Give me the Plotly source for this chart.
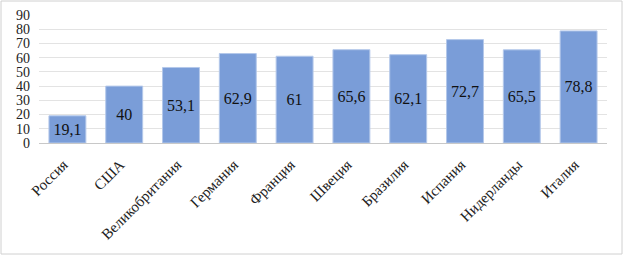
import plotly.graph_objects as go

countries = ["Россия", "США", "Великобритания", "Германия", "Франция", "Швеция",
             "Бразилия", "Испания", "Нидерланды", "Италия"]
values = [19.1, 40, 53.1, 62.9, 61, 65.6, 62.1, 72.7, 65.5, 78.8]
labels = [f"{v:g}".replace(".", ",") for v in values]
y_ticks = [0, 10, 20, 30, 40, 50, 60, 70, 80, 90]

W, H = 624, 256
ml, mr, mt, mb = 39, 17, 15, 113
pw, ph = W - ml - mr, H - mt - mb
SERIF = "Times New Roman, Liberation Serif, DejaVu Serif, serif"

fig = go.Figure(go.Bar(
    x=countries, y=values, text=labels,
    textposition="inside", insidetextanchor="middle",
    textfont=dict(family=SERIF, size=16, color="#111111"),
    marker=dict(color="#7a9dd8", line=dict(color="#b4c8ea", width=1)),
    textangle=0, cliponaxis=False,
))

fig.update_layout(
    width=W, height=H,
    margin=dict(l=ml, r=mr, t=mt, b=mb, autoexpand=False),
    paper_bgcolor="white", plot_bgcolor="white",
    bargap=0.35, showlegend=False,
    font=dict(family=SERIF, size=14, color="#222222"),
    shapes=[dict(type="rect", xref="paper", yref="paper",
                 x0=(1 - ml) / pw, x1=(W - 2 - ml) / pw,
                 y0=(mt + ph - (H - 2)) / ph, y1=(mt + ph - 1) / ph,
                 line=dict(color="#d0d0d0", width=1), layer="below")],
)
fig.update_yaxes(range=[0, 90], tickvals=y_ticks, showgrid=True, gridcolor="#e3e3e3",
                 gridwidth=1, zeroline=False, showline=False, ticks="", automargin=False,
                 ticklabelstandoff=8,
                 tickfont=dict(family=SERIF, size=14, color="#222222"))
fig.update_xaxes(tickangle=-45, showline=True, linecolor="#c8c8c8", linewidth=1,
                 ticks="", automargin=False, ticklabelstandoff=6, ticklabelshift=-4,
                 tickfont=dict(family=SERIF, size=15, color="#222222"))

fig.write_html("out.html", config={"displayModeBar": False},
               post_script="document.body.style.margin='0';document.body.style.overflow='hidden';")
